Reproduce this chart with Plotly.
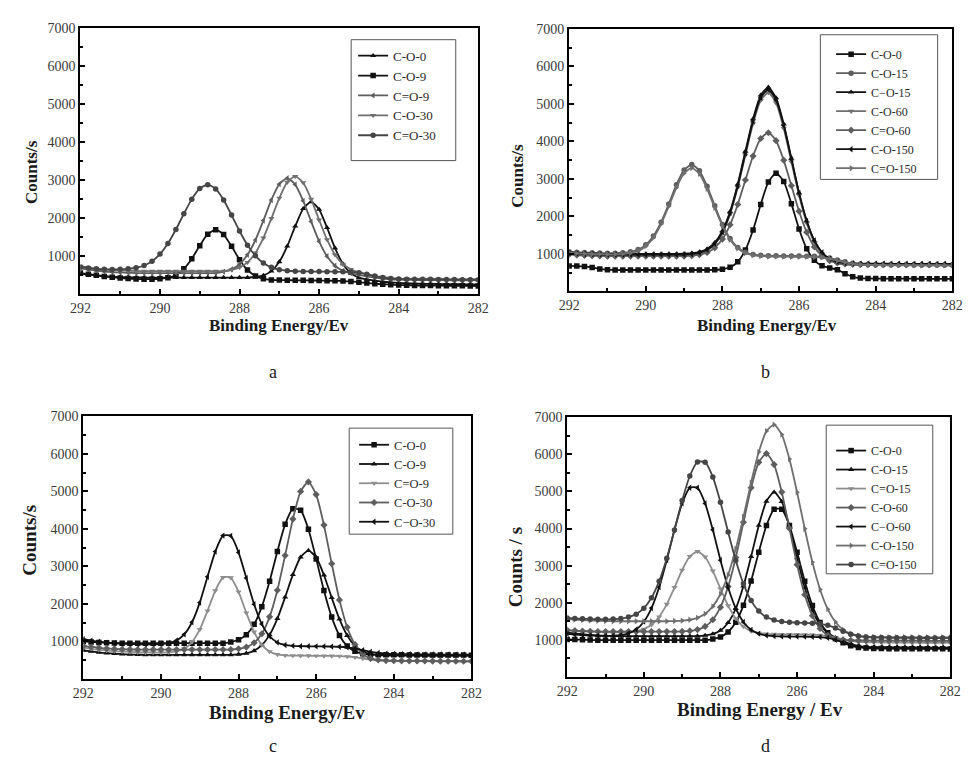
import plotly.graph_objects as go

# Binding-energy sampling grid (eV), 292 -> 282 in 0.2 eV steps
energy = [round(292 - 0.2 * i, 1) for i in range(51)]

# ---------------- panel a ----------------
a_names = ["C-O-0", "C-O-9", "C=O-9", "C-O-30", "C=O-30"]
a_co0 = [540, 520, 500, 480, 465, 455, 450, 445, 440, 440, 440, 440, 440, 440, 440, 440, 440, 440, 440, 440, 440, 440,
         456, 498, 610, 854, 1265, 1790, 2250, 2430, 2230, 1752, 1215, 798, 552, 438, 391, 360, 335, 315, 300, 290,
         282, 278, 275, 272, 270, 268, 266, 264, 262]
a_co9 = [560, 530, 500, 470, 450, 430, 415, 405, 400, 400, 410, 438, 510, 670, 937, 1280, 1580, 1700, 1571, 1261, 912,
         642, 481, 408, 380, 375, 372, 370, 368, 365, 362, 360, 355, 350, 340, 320, 300, 280, 265, 255, 245, 240,
         235, 232, 230, 228, 226, 225, 224, 222, 220]
a_c2o9 = [680, 650, 620, 600, 585, 575, 565, 560, 560, 560, 560, 560, 560, 560, 560, 560, 560, 560,
          596, 658, 791, 1038, 1428, 1940, 2479, 2895, 3050, 2883, 2457, 1912, 1394, 1000, 752, 618, 556, 512, 474,
          440, 415, 395, 385, 380, 378, 376, 375, 374, 372, 370, 370, 368, 366]
a_co30 = [740, 700, 670, 650, 635, 625, 618, 612, 610, 610, 610, 610, 610, 610, 610, 610, 610, 610, 610,
          646, 709, 841, 1088, 1481, 1993, 2530, 2946, 3100, 2932, 2504, 1955, 1436, 1041, 793, 659, 576, 522, 480,
          450, 425, 410, 405, 402, 400, 400, 398, 396, 395, 394, 392, 390]
a_c2o30 = [720, 690, 670, 660, 655, 657, 670, 699, 759, 871, 1058, 1337, 1703, 2114, 2501, 2782, 2880, 2770, 2479,
           2082, 1663, 1293, 1012, 823, 709, 649, 620, 607, 603, 600, 598, 596, 594, 592, 590, 570, 530, 480, 440,
           415, 405, 400, 398, 396, 394, 392, 390, 388, 386, 385, 384]

# ---------------- panel b ----------------
b_names = ["C-O-0", "C-O-15", "C\u2212O-15", "C-O-60", "C=O-60", "C-O-150", "C=O-150"]
b_co0 = [680, 675, 665, 640, 600, 580, 570, 570, 570, 570, 570, 570, 570, 570, 570, 570, 570, 570, 570,
         575, 590, 644, 789, 1103, 1635, 2317, 2919, 3150, 2932, 2339, 1665, 1139, 829, 684, 625, 580, 470, 390, 355,
         345, 342, 340, 340, 340, 338, 338, 336, 336, 335, 335, 335]
b_co15 = [1060, 1045, 1035, 1028, 1024, 1020, 1020, 1031, 1055, 1114, 1241, 1475, 1846, 2332, 2843, 3237, 3380, 3217,
          2805, 2282, 1786, 1409, 1173, 1044, 985, 961, 950, 948, 946, 944, 942, 940, 936, 925, 890, 840, 790, 750,
          725, 715, 712, 710, 710, 708, 708, 706, 706, 705, 705, 704, 704]
b_cmo15 = [1040, 1025, 1015, 1008, 1004, 1000, 1000, 1000, 1000, 1000, 1000, 1000, 1000, 1000, 1000,
           1005, 1018, 1051, 1130, 1298, 1612, 2127, 2857, 3735, 4598, 5229, 5440, 5157, 4460, 3544, 2627, 1873, 1344,
           1024, 852, 771, 738, 725, 720, 720, 718, 718, 716, 716, 715, 715, 714, 714, 712, 712, 710]
b_co60 = [1000, 985, 975, 968, 964, 960, 960, 960, 960, 960, 960, 960, 960, 960, 960, 960,
          977, 1010, 1087, 1251, 1557, 2061, 2773, 3632, 4474, 5093, 5300, 5025, 4346, 3454, 2561, 1825, 1309, 997,
          829, 750, 717, 705, 700, 700, 698, 698, 696, 696, 695, 695, 694, 694, 692, 692, 690]
b_c2o60 = [985, 968, 958, 950, 945, 940, 940, 940, 940, 940, 940, 940, 940, 940, 940, 940,
           953, 978, 1036, 1161, 1394, 1776, 2317, 2969, 3608, 4075, 4230, 4017, 3498, 2819, 2137, 1578, 1184, 945,
           818, 758, 733, 724, 720, 720, 718, 718, 716, 716, 715, 715, 714, 714, 712, 712, 710]
b_co150 = [1020, 1005, 995, 988, 984, 980, 980, 980, 980, 980, 980, 980, 980, 980, 980, 980,
           998, 1030, 1108, 1275, 1584, 2093, 2816, 3686, 4541, 5167, 5380, 5105, 4421, 3522, 2620, 1877, 1356, 1039,
           870, 790, 758, 745, 740, 740, 738, 738, 736, 736, 735, 735, 734, 734, 732, 732, 730]
b_c2o150 = [1030, 1015, 1005, 998, 994, 990, 990, 1001, 1024, 1081, 1205, 1433, 1794, 2267, 2765, 3150, 3290, 3132,
            2733, 2225, 1744, 1377, 1147, 1021, 964, 941, 930, 928, 926, 924, 922, 920, 916, 905, 870, 820, 775, 740,
            718, 708, 705, 703, 702, 700, 700, 698, 698, 697, 697, 696, 696]

# ---------------- panel c ----------------
c_names = ["C-O-0", "C-O-9", "C=O-9", "C-O-30", "C\u2212O-30"]
c_co0 = [1000, 985, 972, 962, 956, 950, 950, 950, 950, 950, 950, 950, 950, 950, 950, 950, 950, 950, 950,
         982, 1041, 1178, 1453, 1925, 2601, 3396, 4118, 4537, 4493, 3988, 3198, 2353, 1646, 1157, 874, 733, 672, 650,
         645, 642, 640, 640, 638, 638, 636, 636, 635, 635, 634, 634, 632]
c_co9 = [760, 730, 705, 685, 670, 658, 650, 645, 640, 640, 640, 640, 640, 640, 640, 640, 640, 640, 640, 640,
         653, 680, 749, 898, 1172, 1606, 2177, 2778, 3244, 3420, 3238, 2768, 2163, 1590, 1154, 878, 729, 660, 633,
         620, 620, 618, 618, 616, 616, 615, 615, 614, 614, 612, 612]
c_c2o9 = [830, 800, 775, 755, 740, 728, 718, 710, 705, 700, 700, 708, 732, 804, 979, 1317, 1814, 2349, 2704, 2696,
          2319, 1760, 1249, 905, 726, 652, 628, 620, 618, 616, 614, 612, 610, 606, 595, 575, 545, 515, 495, 482,
          476, 474, 472, 470, 470, 468, 468, 466, 466, 465, 465]
c_co30 = [880, 850, 828, 810, 798, 790, 785, 780, 780, 780, 780, 780, 780, 780, 780, 780, 780, 780, 780, 780,
          802, 846, 959, 1203, 1652, 2361, 3289, 4258, 4997, 5250, 4911, 4098, 3071, 2105, 1373, 913, 663, 547, 502,
          486, 482, 480, 478, 476, 475, 474, 472, 470, 470, 468, 468]
c_cmo30 = [1060, 1020, 990, 965, 948, 935, 928, 924, 920, 920, 929, 953, 1021, 1184, 1508, 2033, 2721, 3393, 3818,
           3812, 3371, 2686, 1990, 1461, 1135, 971, 903, 879, 870, 868, 866, 864, 860, 855, 840, 810, 765, 720, 690,
           672, 662, 658, 655, 652, 650, 650, 648, 648, 646, 646, 645]

# ---------------- panel d ----------------
d_names = ["C-O-0", "C-O-15", "C=O-15", "C-O-60", "C\u2212O-60", "C-O-150", "C=O-150"]
d_co0 = [1010, 1005, 1000, 995, 990, 990, 990, 990, 990, 990, 990, 990, 990, 990, 990, 990, 990, 990, 990,
         1020, 1077, 1210, 1474, 1929, 2585, 3363, 4081, 4518, 4517, 4078, 3359, 2579, 1921, 1465, 1190, 1027, 920,
         840, 795, 775, 765, 762, 760, 760, 758, 758, 756, 756, 755, 755, 754]
d_co15 = [1200, 1170, 1150, 1130, 1118, 1110, 1105, 1100, 1100, 1100, 1100, 1100, 1100, 1100, 1100, 1100, 1100, 1100,
          1118, 1157, 1252, 1460, 1843, 2449, 3245, 4083, 4735, 4980, 4725, 4063, 3211, 2405, 1792, 1404, 1183, 1057,
          968, 880, 830, 800, 790, 786, 784, 782, 780, 780, 778, 778, 776, 776, 775]
d_c2o15 = [1260, 1240, 1225, 1215, 1208, 1200, 1200, 1200, 1210, 1232, 1286, 1403, 1619, 1961, 2410, 2881, 3246, 3380,
           3232, 2855, 2374, 1919, 1573, 1355, 1236, 1182, 1160, 1150, 1148, 1146, 1144, 1140, 1135, 1125, 1100,
           1060, 1010, 970, 945, 935, 930, 928, 926, 925, 924, 922, 920, 920, 918, 918, 916]
d_co60 = [1260, 1245, 1235, 1228, 1224, 1220, 1220, 1220, 1220, 1220, 1220, 1220, 1220, 1220, 1220,
          1226, 1239, 1275, 1360, 1541, 1878, 2433, 3220, 4168, 5101, 5785, 6020, 5723, 4981, 4004, 3024, 2217, 1650,
          1305, 1122, 1035, 999, 986, 980, 980, 978, 978, 976, 976, 975, 975, 974, 974, 972, 972, 970]
d_cmo60 = [1160, 1140, 1125, 1115, 1108, 1103, 1109, 1127, 1174, 1278, 1488, 1855, 2418, 3152, 3968, 4678, 5100, 5099,
           4676, 3964, 3146, 2410, 1846, 1478, 1268, 1164, 1117, 1099, 1090, 1088, 1086, 1084, 1080, 1072, 1050, 1000,
           930, 870, 830, 810, 802, 800, 798, 796, 795, 794, 792, 792, 790, 790, 788]
d_co150 = [1560, 1545, 1530, 1520, 1512, 1506, 1500, 1500, 1500, 1500, 1500, 1500, 1500, 1500,
           1505, 1515, 1540, 1592, 1700, 1900, 2235, 2749, 3452, 4313, 5238, 6060, 6626, 6800, 6532, 5874, 4976, 3993,
           3088, 2356, 1825, 1480, 1274, 1164, 1110, 1085, 1075, 1072, 1070, 1070, 1068, 1068, 1066, 1066, 1065,
           1065, 1064]
d_c2o150 = [1590, 1575, 1565, 1558, 1553, 1550, 1558, 1573, 1611, 1691, 1851, 2132, 2581, 3201, 3963, 4752, 5416,
            5794, 5786, 5390, 4708, 3906, 3135, 2509, 2056, 1773, 1612, 1531, 1491, 1473, 1460, 1455, 1448, 1430, 1390,
            1320, 1230, 1150, 1100, 1075, 1062, 1058, 1055, 1052, 1050, 1050, 1048, 1048, 1046, 1046, 1045]

x_ticks = [292, 290, 288, 286, 284, 282]
y_ticks = [1000, 2000, 3000, 4000, 5000, 6000, 7000]

BLACK, DARK, GREY, MID, LIGHT = "#111111", "#454545", "#5e5e5e", "#6f6f6f", "#8e8e8e"

panels = [
    # series, names, styles (colour, symbol)
    ([a_co0, a_co9, a_c2o9, a_co30, a_c2o30], a_names,
     [(BLACK, "triangle-up"), (BLACK, "square"), (GREY, "triangle-left"), (MID, "triangle-down"), (DARK, "circle")]),
    ([b_co0, b_co15, b_cmo15, b_co60, b_c2o60, b_co150, b_c2o150], b_names,
     [(BLACK, "square"), (GREY, "circle"), (BLACK, "triangle-up"), (MID, "triangle-down"), (GREY, "diamond"),
      (BLACK, "triangle-left"), (MID, "triangle-right")]),
    ([c_co0, c_co9, c_c2o9, c_co30, c_cmo30], c_names,
     [(BLACK, "square"), (BLACK, "triangle-up"), (LIGHT, "triangle-down"), (GREY, "diamond"),
      (BLACK, "triangle-left")]),
    ([d_co0, d_co15, d_c2o15, d_co60, d_cmo60, d_co150, d_c2o150], d_names,
     [(BLACK, "square"), (BLACK, "triangle-up"), (LIGHT, "triangle-down"), (GREY, "diamond"),
      (BLACK, "triangle-left"), (MID, "triangle-right"), (DARK, "circle")]),
]

W, H = 977, 771
def px(x):
    return x / W
def py(y):
    return 1 - y / H

SERIF = "Liberation Serif"

# plot-area rectangles in pixels: left, right, top, bottom
boxes = [(71, 478, 21, 290), (571, 963, 22, 287), (74, 471, 413, 678), (569, 961, 414, 676)]
# legend frames (left, top, right, bottom) and legend anchor (left, top, font size)
frames = [(348, 33, 455, 155), (828, 28, 948, 174), (346, 425, 452, 532), (834, 422, 943, 572)]
legend_pos = [(350, 34, 13), (839, 33, 12), (351, 427, 12.5), (839, 433, 12)]

fig = go.Figure()
layout = dict(width=W, height=H, margin=dict(l=0, r=0, t=0, b=0),
              paper_bgcolor="white", plot_bgcolor="white", showlegend=True)

for k, (series, names, styles) in enumerate(panels):
    sfx = "" if k == 0 else str(k + 1)
    leg = "legend" if k == 0 else "legend" + str(k + 1)
    for vals, name, (col, sym) in zip(series, names, styles):
        fig.add_trace(go.Scatter(
            x=energy, y=vals, name=name, mode="lines+markers",
            line=dict(color=col, width=1.8, shape="spline", smoothing=0.6),
            marker=dict(symbol=sym, size=5.5, color=col),
            xaxis="x" + sfx, yaxis="y" + sfx, legend=leg))
    l, r, t, b = boxes[k]
    layout["xaxis" + sfx] = dict(
        domain=[px(l), px(r)], anchor="y" + sfx, range=[292, 282], tickvals=x_ticks,
        ticks="inside", ticklen=5, tickwidth=1.5, tickcolor="black",
        minor=dict(dtick=1, tick0=282, ticks="inside", ticklen=3, tickcolor="black"),
        showline=True, linecolor="black", linewidth=2, mirror=True,
        showgrid=False, zeroline=False,
        tickfont=dict(family=SERIF, size=14, color="#3a3a3a"))
    layout["yaxis" + sfx] = dict(
        domain=[py(b), py(t)], anchor="x" + sfx, range=[0, 7000], tickvals=y_ticks,
        ticks="inside", ticklen=5, tickwidth=1.5, tickcolor="black",
        minor=dict(dtick=500, tick0=0, ticks="inside", ticklen=3, tickcolor="black"),
        showline=True, linecolor="black", linewidth=2, mirror=True,
        showgrid=False, zeroline=False,
        tickfont=dict(family=SERIF, size=14, color="#3a3a3a"))
    lx, ly, fs = legend_pos[k]
    layout[leg] = dict(x=px(lx), y=py(ly), xanchor="left", yanchor="top",
                       bgcolor="rgba(0,0,0,0)", borderwidth=0,
                       font=dict(family=SERIF, size=fs, color="#2a2a2a"), itemwidth=30)

fig.update_layout(**layout)

# legend frames
for l, t, r, b in frames:
    fig.add_shape(type="rect", xref="paper", yref="paper", x0=px(l), x1=px(r), y0=py(b), y1=py(t),
                  line=dict(color="#555555", width=1), fillcolor="white", layer="above")

# axis titles and panel letters
xtitles = [("Binding Energy/Ev", 274, 321, 17), ("Binding Energy/Ev", 773, 321, 17),
           ("Binding Energy/Ev", 282, 712, 19), ("Binding Energy / Ev", 766, 709, 19)]
ytitles = [("Counts/s", 21, 167, 17), ("Counts/s", 518, 170, 17), ("Counts/s", 19, 538, 19),
           ("Counts / s", 517, 565, 19)]
letters = [("a", 268, 368), ("b", 772, 368), ("c", 268, 746), ("d", 772, 746)]

for text, x, y, size in xtitles:
    fig.add_annotation(text=text, x=px(x), y=py(y), xref="paper", yref="paper", showarrow=False,
                       xanchor="center", yanchor="middle",
                       font=dict(family=SERIF, size=size, color="#1a1a1a", weight="bold"))
for text, x, y, size in ytitles:
    fig.add_annotation(text=text, x=px(x), y=py(y), xref="paper", yref="paper", showarrow=False,
                       xanchor="center", yanchor="middle", textangle=-90,
                       font=dict(family=SERIF, size=size, color="#1a1a1a", weight="bold"))
for text, x, y in letters:
    fig.add_annotation(text=text, x=px(x), y=py(y), xref="paper", yref="paper", showarrow=False,
                       xanchor="center", yanchor="middle",
                       font=dict(family=SERIF, size=18, color="#1a1a1a"))

fig.write_html("out.html")
